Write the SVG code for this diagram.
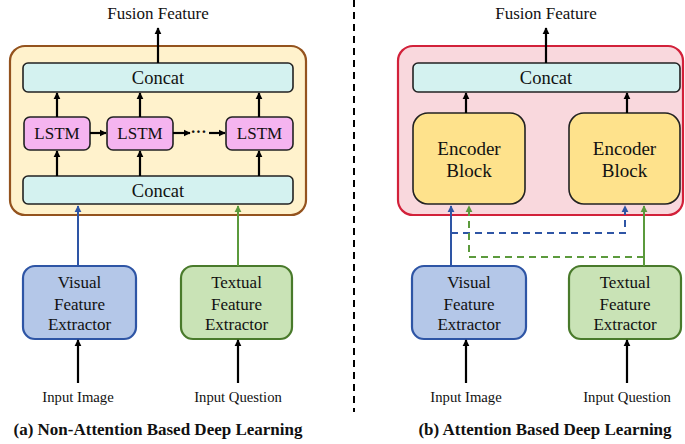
<svg xmlns="http://www.w3.org/2000/svg" width="685" height="444" viewBox="0 0 685 444">
<defs>
<marker id="ak" viewBox="0 0 10 10" refX="9" refY="5" markerWidth="3.2" markerHeight="3.2" orient="auto"><path d="M0,0 L10,5 L0,10 z" fill="#000"/></marker>
<marker id="ab" viewBox="0 0 10 10" refX="9" refY="5" markerWidth="3.6" markerHeight="3.6" orient="auto"><path d="M0,0 L10,5 L0,10 z" fill="#2E55A5"/></marker>
<marker id="ag" viewBox="0 0 10 10" refX="9" refY="5" markerWidth="3.6" markerHeight="3.6" orient="auto"><path d="M0,0 L10,5 L0,10 z" fill="#5B9A3C"/></marker>
<style>
text{font-family:"Liberation Serif","Times New Roman",serif;fill:#111;text-anchor:middle}
.t18{font-size:18.5px}.t17{font-size:17px}.t19{font-size:19px}.t15{font-size:14.7px}
.cap{font-size:17px;font-weight:bold}
.concat{fill:#D4F2F0;stroke:#222;stroke-width:1.6}
.lstm{fill:#F5B4F0;stroke:#222;stroke-width:1.6}
.enc{fill:#FEE28C;stroke:#222;stroke-width:1.6}
.vis{fill:#B4C7E8;stroke:#2E55A5;stroke-width:2.2}
.txt{fill:#C9E3B6;stroke:#497A2B;stroke-width:2.2}
.k{stroke:#000;stroke-width:2.2;fill:none;marker-end:url(#ak)}
.b{stroke:#2E55A5;stroke-width:2;fill:none}
.g{stroke:#5B9A3C;stroke-width:2;fill:none}
.d{stroke-dasharray:7,5}
</style>
</defs>
<rect width="685" height="444" fill="#fff"/>

<!-- divider -->
<line x1="354" y1="0" x2="354" y2="412" stroke="#000" stroke-width="2" stroke-dasharray="7,5"/>

<!-- LEFT PANEL -->
<g id="left-outer"><rect x="10" y="46" width="296" height="169" rx="15" fill="#FFF2CC" stroke="#94531E" stroke-width="2.2"/></g>
<g id="left-concat-top"><rect class="concat" x="23" y="63" width="270" height="29" rx="5"/><text class="t18" x="158" y="84">Concat</text></g>
<g id="lstm1"><rect class="lstm" x="24" y="117" width="66" height="33" rx="6"/><text class="t17" x="57" y="139">LSTM</text></g>
<g id="lstm2"><rect class="lstm" x="107" y="117" width="66" height="33" rx="6"/><text class="t17" x="140" y="139">LSTM</text></g>
<g id="lstm3"><rect class="lstm" x="226" y="117" width="67" height="33" rx="6"/><text class="t17" x="259.5" y="139">LSTM</text></g>
<g id="left-concat-bottom"><rect class="concat" x="23" y="176" width="270" height="28" rx="5"/><text class="t18" x="158" y="197">Concat</text></g>
<g id="left-visual"><rect class="vis" x="23" y="266" width="113" height="73" rx="12"/><text class="t17" x="79.5" y="288">Visual</text><text class="t17" x="79.5" y="310">Feature</text><text class="t17" x="79.5" y="330">Extractor</text></g>
<g id="left-textual"><rect class="txt" x="181" y="266" width="111" height="73" rx="12"/><text class="t17" x="236.5" y="288">Textual</text><text class="t17" x="236.5" y="310">Feature</text><text class="t17" x="236.5" y="330">Extractor</text></g>
<g id="left-labels">
<text class="t17" x="158" y="19">Fusion Feature</text>
<text class="t15" x="78" y="402">Input Image</text>
<text class="t15" x="238" y="402">Input Question</text>
<text class="cap" x="158" y="435">(a) Non-Attention Based Deep Learning</text>
<text x="198.5" y="137" style="font-size:16px;font-weight:bold">···</text>
</g>

<g id="left-connectors">
<line class="k" x1="158" y1="63" x2="158" y2="28"/>
<line class="k" x1="57" y1="117" x2="57" y2="93"/>
<line class="k" x1="140" y1="117" x2="140" y2="93"/>
<line class="k" x1="259" y1="117" x2="259" y2="93"/>
<line class="k" x1="57" y1="176" x2="57" y2="151"/>
<line class="k" x1="140" y1="176" x2="140" y2="151"/>
<line class="k" x1="259" y1="176" x2="259" y2="151"/>
<line class="k" x1="90" y1="133" x2="106" y2="133"/>
<line class="k" x1="173" y1="133" x2="190" y2="133"/>
<line class="k" x1="209" y1="133" x2="225" y2="133"/>
<line class="b" x1="78" y1="266" x2="78" y2="206" marker-end="url(#ab)"/>
<line class="g" x1="238" y1="266" x2="238" y2="206" marker-end="url(#ag)"/>
<line class="k" x1="78" y1="383" x2="78" y2="340"/>
<line class="k" x1="238" y1="383" x2="238" y2="340"/>
</g>

<!-- RIGHT PANEL -->
<g id="right-outer"><rect x="398" y="46" width="285" height="169" rx="15" fill="#F9D8DD" stroke="#D2213A" stroke-width="2.2"/></g>
<g id="right-concat"><rect class="concat" x="413" y="63" width="267" height="29" rx="5"/><text class="t18" x="546" y="84">Concat</text></g>
<g id="encoder1"><rect class="enc" x="413" y="113" width="112" height="91" rx="15"/><text class="t19" x="469" y="155">Encoder</text><text class="t19" x="469" y="177">Block</text></g>
<g id="encoder2"><rect class="enc" x="569" y="113" width="111" height="91" rx="15"/><text class="t19" x="624.5" y="155">Encoder</text><text class="t19" x="624.5" y="177">Block</text></g>
<g id="right-visual"><rect class="vis" x="412" y="266" width="114" height="73" rx="12"/><text class="t17" x="469" y="288">Visual</text><text class="t17" x="469" y="310">Feature</text><text class="t17" x="469" y="330">Extractor</text></g>
<g id="right-textual"><rect class="txt" x="569" y="266" width="112" height="73" rx="12"/><text class="t17" x="625" y="288">Textual</text><text class="t17" x="625" y="310">Feature</text><text class="t17" x="625" y="330">Extractor</text></g>
<g id="right-labels">
<text class="t17" x="546" y="19">Fusion Feature</text>
<text class="t15" x="466" y="402">Input Image</text>
<text class="t15" x="627" y="402">Input Question</text>
<text class="cap" x="545" y="435">(b) Attention Based Deep Learning</text>
</g>

<g id="right-connectors">
<line class="k" x1="546" y1="63" x2="546" y2="28"/>
<line class="k" x1="466" y1="113" x2="466" y2="93"/>
<line class="k" x1="627" y1="113" x2="627" y2="93"/>
<line class="b" x1="451" y1="266" x2="451" y2="206" marker-end="url(#ab)"/>
<polyline class="b d" points="451,233 625,233 625,206" marker-end="url(#ab)"/>
<line class="g" x1="644" y1="266" x2="644" y2="206" marker-end="url(#ag)"/>
<polyline class="g d" points="644,257 469,257 469,206" marker-end="url(#ag)"/>
<line class="k" x1="466" y1="383" x2="466" y2="340"/>
<line class="k" x1="627" y1="383" x2="627" y2="340"/>
</g>
</svg>
